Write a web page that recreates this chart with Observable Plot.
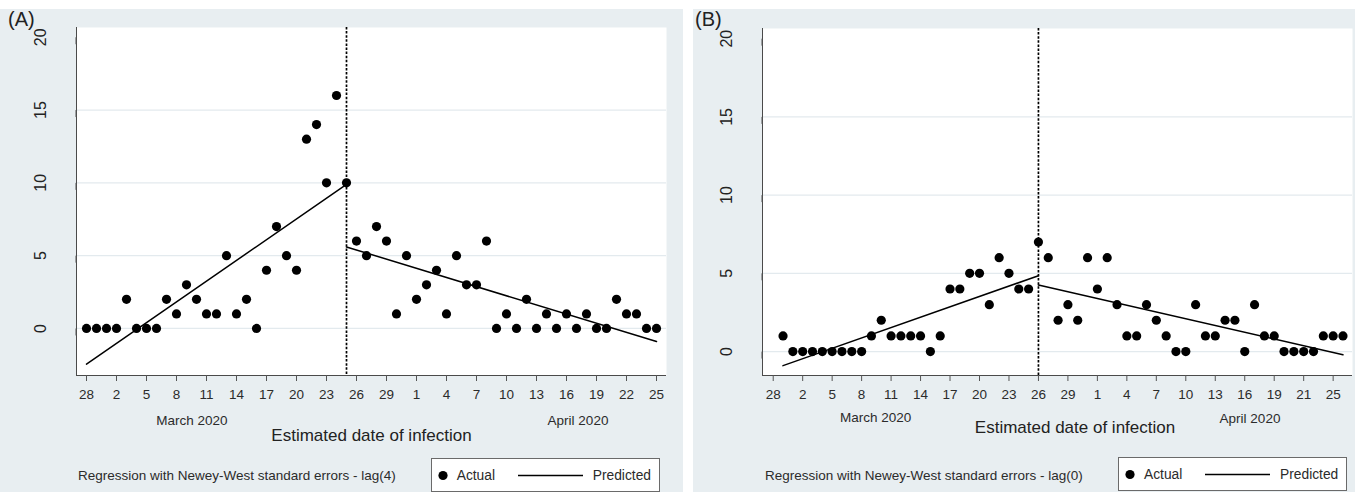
<!DOCTYPE html>
<html>
<head>
<meta charset="utf-8">
<script src="https://cdn.jsdelivr.net/npm/d3@7"></script>
<script src="https://cdn.jsdelivr.net/npm/@observablehq/plot@0.6"></script>
<style>
  body { margin: 0; background: #ffffff; font-family: "Liberation Sans", Arial, sans-serif; color: #2b2b2b; }
  #wrap { position: relative; width: 1355px; height: 492px; overflow: hidden; background: #ffffff; }
  .panel { position: absolute; background: #e8eef1; }
  .abs { position: absolute; white-space: nowrap; line-height: 1; }
  .ctr { transform: translateX(-50%); }
  .legend { position: absolute; background: #ffffff; border: 1px solid #6a6a6a; box-sizing: border-box; }
  .plotbox { position: absolute; }
  .plotbox g[aria-label="y-axis tick label"] text { font-size: 16px !important; fill: #222; }
  .plotbox g[aria-label="x-axis tick label"] text { font-size: 13.5px !important; fill: #2b2b2b; }
</style>
</head>
<body>
<div id="wrap"></div>
<script>
// ---------------- data ----------------
// x = day index counted from 28 February 2020
const tickDays = [0, 3, 6, 9, 12, 15, 18, 21, 24, 27, 30, 33, 36, 39, 42, 45, 48, 51, 54, 57];
const tickLabelsA = ["28","2","5","8","11","14","17","20","23","26","29","1","4","7","10","13","16","19","22","25"];
const tickLabelsB = ["28","2","5","8","11","14","17","20","23","26","29","1","4","7","10","13","16","19","21","25"];
const yTicks = [0, 5, 10, 15, 20];
const gridTicks = [0, 5, 10, 15];

// Panel A: actual counts, first point on day 0
const startA = 0;
const actualA = [0,0,0,0,2,0,0,0,2,1,3,2,1,1,5,1,2,0,4,7,5,4,13,14,10,16,10,
                 6,5,7,6,1,5,2,3,4,1,5,3,3,6,0,1,0,2,0,1,0,1,0,1,0,0,2,1,1,0,0];
const breakA = 26;
const predA1 = [[0, -2.45], [26, 9.9]];
const predA2 = [[26, 5.6], [57, -0.9]];

// Panel B: actual counts, first point on day 1
const startB = 1;
const actualB = [1,0,0,0,0,0,0,0,0,1,2,1,1,1,1,0,1,4,4,5,5,3,6,5,4,4,
                 7,6,2,3,2,6,4,6,3,1,1,3,2,1,0,0,3,1,1,2,2,0,3,1,1,0,0,0,0,1,1,1];
const breakB = 27;
const predB1 = [[1, -0.9], [27, 4.85]];
const predB2 = [[27, 4.26], [58, -0.21]];

// ---------------- drawing ----------------
const wrap = document.getElementById("wrap");

function el(cls, css, html) {
  const d = document.createElement("div");
  d.className = cls;
  d.style.cssText = css;
  if (html !== undefined) d.innerHTML = html;
  wrap.appendChild(d);
  return d;
}

function drawPanel(cfg) {
  el("panel", `left:${cfg.bgLeft}px;top:9px;width:${cfg.bgWidth}px;height:483px;`);

  const actual = cfg.actual.map((v, i) => ({day: i + cfg.start, value: v}));
  const pred = [
    ...cfg.pred1.map(([d, v]) => ({day: d, value: v, seg: 1})),
    ...cfg.pred2.map(([d, v]) => ({day: d, value: v, seg: 2}))
  ];
  const labelOf = new Map(tickDays.map((d, i) => [d, cfg.tickLabels[i]]));

  const chart = Plot.plot({
    width: cfg.width,
    height: 400,
    marginLeft: cfg.marginLeft,
    marginRight: cfg.marginRight,
    marginTop: cfg.marginTop,
    marginBottom: 34,
    style: {background: "transparent", color: "#2b2b2b", fontFamily: "'Liberation Sans', Arial, sans-serif", overflow: "visible"},
    x: {domain: cfg.xDomain},
    y: {domain: cfg.yDomain},
    marks: [
      Plot.frame({fill: "white", stroke: null}),
      Plot.gridY(gridTicks, {stroke: "#e3eaee", strokeOpacity: 1, strokeWidth: 1.2}),
      Plot.ruleX([cfg.xDomain[0]], {stroke: "#4a4a4a", strokeWidth: 1}),
      Plot.ruleY([cfg.yDomain[0]], {stroke: "#4a4a4a", strokeWidth: 1}),
      Plot.axisX({ticks: tickDays, tickFormat: d => labelOf.get(d), tickSize: 6, tickPadding: 8,
                  fontSize: 13.5, stroke: "#555", label: null}),
      Plot.axisY({ticks: yTicks, tickSize: 7, tickPadding: 29, rotate: -90, textAnchor: "middle",
                  fontSize: 16, stroke: "#555", fill: "#222", label: null}),
      Plot.ruleX([cfg.breakDay], {stroke: "black", strokeWidth: 1.7, strokeDasharray: "2.5,1.6"}),
      Plot.line(pred, {x: "day", y: "value", z: "seg", stroke: "black", strokeWidth: 1.5}),
      Plot.dot(actual, {x: "day", y: "value", r: 4.6, fill: "black", stroke: null})
    ]
  });
  const box = el("plotbox", `left:${cfg.bgLeft}px;top:9px;`);
  box.appendChild(chart);

  // panel letter
  el("abs", `left:${cfg.letterLeft}px;top:9px;font-size:20px;color:#222;`, cfg.letter);
  // month labels
  el("abs ctr", `left:${cfg.marchX}px;top:${cfg.monthTop}px;font-size:13.5px;`, "March 2020");
  el("abs ctr", `left:${cfg.aprilX}px;top:${cfg.monthTop + cfg.aprilDy}px;font-size:13.5px;`, "April 2020");
  // axis title
  el("abs ctr", `left:${cfg.titleX}px;top:${cfg.titleTop}px;font-size:17px;color:#222;`, "Estimated date of infection");
  // caption
  el("abs", `left:${cfg.captionLeft}px;top:468.6px;font-size:13.5px;`, cfg.caption);
  // legend
  const lg = el("legend", `left:${cfg.legendLeft}px;top:${cfg.legendTop}px;width:229px;height:34px;`);
  lg.innerHTML = `
    <svg width="229" height="34" style="position:absolute;left:-1px;top:-1px;overflow:visible">
      <circle cx="12" cy="17.5" r="4.6" fill="black"></circle>
      <line x1="87" x2="152" y1="17.5" y2="17.5" stroke="black" stroke-width="1.5"></line>
    </svg>
    <div class="abs" style="left:25px;top:10px;font-size:13.8px;">Actual</div>
    <div class="abs" style="left:161px;top:10px;font-size:13.8px;">Predicted</div>`;
}

drawPanel({
  bgLeft: 0, bgWidth: 683, width: 683,
  marginLeft: 76, marginRight: 17, marginTop: 18,
  xDomain: [-1.0, 58.0], yDomain: [-3.23, 20.67],
  actual: actualA, start: startA, pred1: predA1, pred2: predA2, breakDay: breakA,
  tickLabels: tickLabelsA,
  letter: "(A)", letterLeft: 8,
  marchX: 191.8, aprilX: 578, monthTop: 413.6, aprilDy: 0,
  titleX: 371.5, titleTop: 426.6,
  captionLeft: 78, caption: "Regression with Newey-West standard errors - lag(4)",
  legendLeft: 430.7, legendTop: 458
});

drawPanel({
  bgLeft: 693, bgWidth: 662, width: 662,
  marginLeft: 69, marginRight: 3, marginTop: 19,
  xDomain: [-1.09, 58.97], yDomain: [-1.53, 20.65],
  actual: actualB, start: startB, pred1: predB1, pred2: predB2, breakDay: breakB,
  tickLabels: tickLabelsB,
  letter: "(B)", letterLeft: 695,
  marchX: 875.7, aprilX: 1250, monthTop: 410.6, aprilDy: 1,
  titleX: 1075, titleTop: 418.9,
  captionLeft: 765, caption: "Regression with Newey-West standard errors - lag(0)",
  legendLeft: 1118, legendTop: 457
});
</script>
</body>
</html>
